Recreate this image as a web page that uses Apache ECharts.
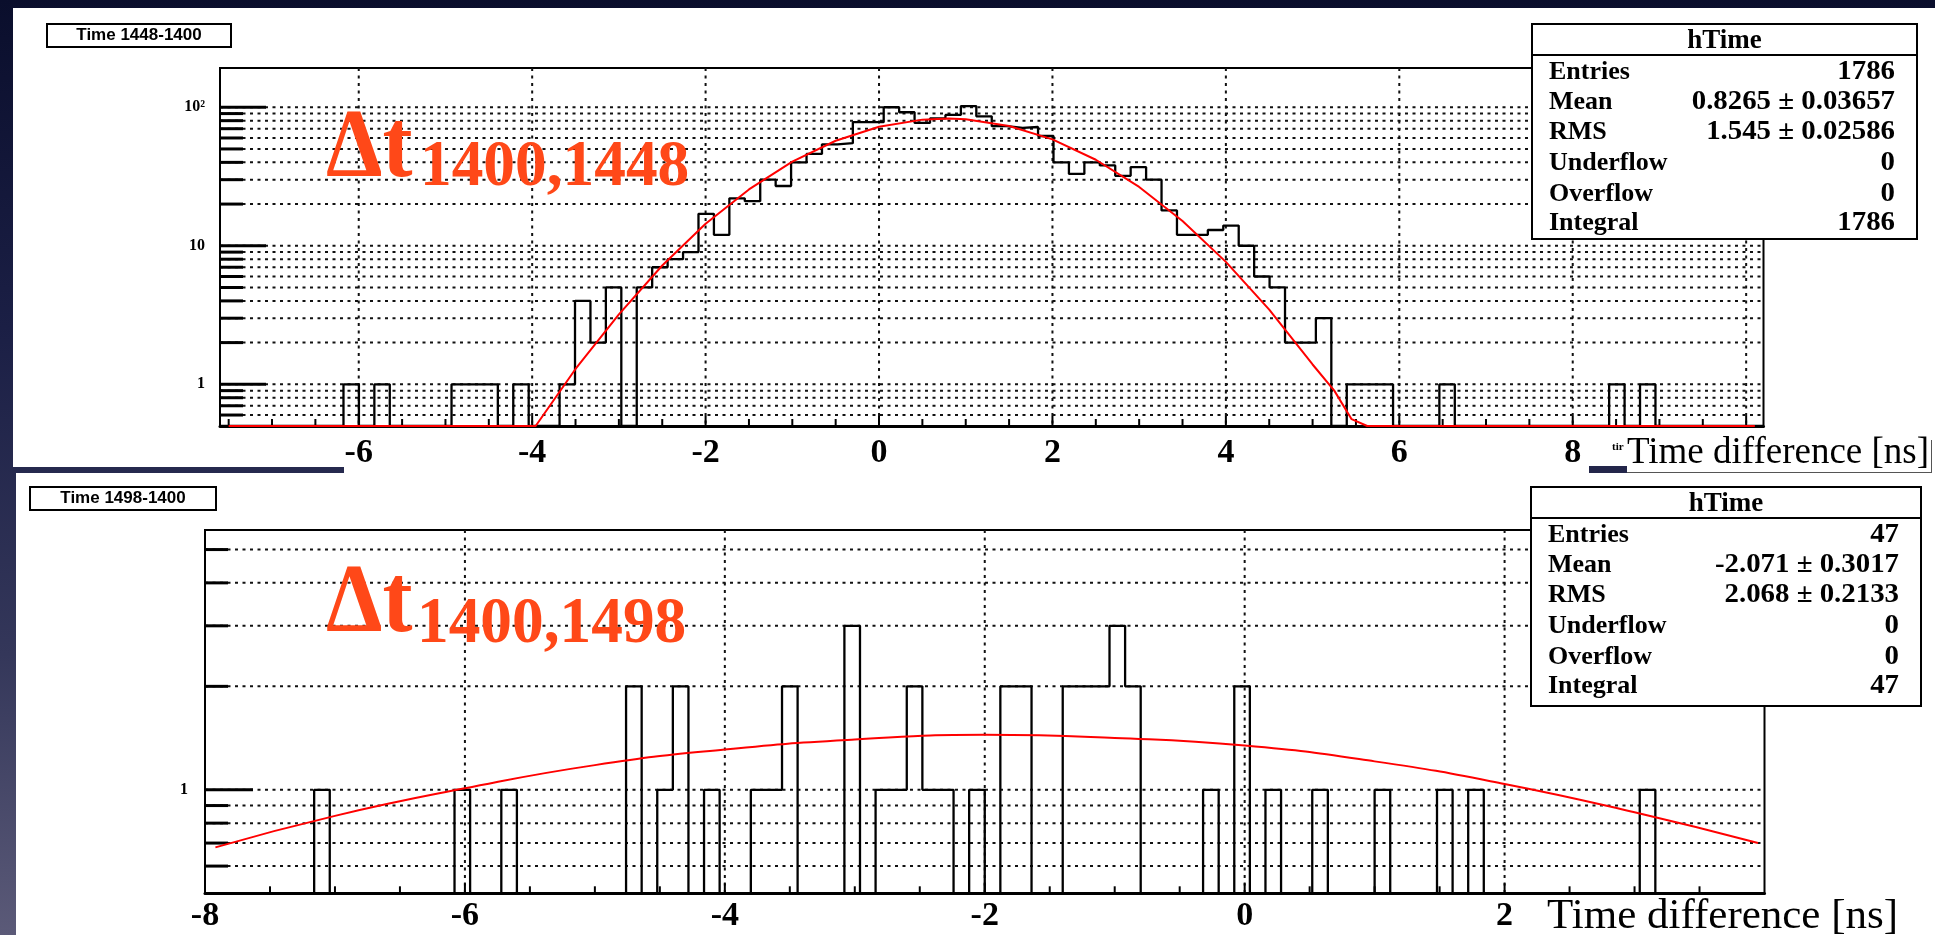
<!DOCTYPE html>
<html><head><meta charset="utf-8">
<script src="https://cdn.jsdelivr.net/npm/echarts@6/dist/echarts.min.js"></script>
<style>
html,body{margin:0;padding:0;width:1935px;height:935px;overflow:hidden;
background:linear-gradient(180deg,#0a0e2c 0%,#1b1f45 35%,#34375a 70%,#5b5a78 100%);}
#wrap{position:relative;width:1935px;height:935px;}
.panel{position:absolute;background:#fff;}
#chart{position:absolute;left:0;top:0;width:1935px;height:935px;}
</style></head><body>
<div id="wrap">
<div class="panel" style="left:13px;top:8px;width:1922px;height:459px"></div>
<div class="panel" style="left:344px;top:460px;width:1591px;height:14px"></div>
<div class="panel" style="left:16px;top:473px;width:1919px;height:462px"></div>
<div style="position:absolute;left:1589px;top:466px;width:38px;height:7px;background:#23264a"></div>
<div style="position:absolute;left:1627px;top:472px;width:305px;height:1px;background:#555"></div>
<div style="position:absolute;left:1931px;top:440px;width:1px;height:33px;background:#555"></div>
<div id="chart"></div>
</div>
<script>
// ---------------- data ----------------
const TOP_X_MIN = -7.6, TOP_X_MAX = 10.2, TOP_BIN_W = 0.178;
const TOP_Y_MIN = 0.5, TOP_Y_MAX = 192;
const TOP_COUNTS = [
  0,0,0,0,0,0,0,0,1,0,
  1,0,0,0,0,1,1,1,0,1,
  0,0,1,4,2,5,0,5,7,8,
  9,17,12,22,21,30,27,40,46,54,
  55,78,78,100,92,77,83,88,102,86,
  73,71,72,62,40,33,40,38,32,37,
  30,18,12,12,13,14,10,6,5,2,
  2,3,0,1,1,1,0,0,0,1,
  0,0,0,0,0,0,0,0,0,0,
  1,0,1,0,0,0,0,0,0,0
];
const TOP_FIT_X = [-7.5,-3.96,-3.5,-3.0,-2.5,-2.0,-1.5,-1.0,-0.5,0.0,0.5,0.8,1.0,1.5,2.0,2.5,3.0,3.5,4.0,4.5,5.0,5.25,5.45,5.63,10.1];
const TOP_FIT_Y = [0.5,0.5,1.29,3.2,7.2,14.4,25.5,40.5,57.3,72.3,81.4,82.8,81.8,73.3,58.6,41.8,26.6,15.1,7.65,3.46,1.39,0.9,0.56,0.5,0.5];

const BOT_X_MIN = -8, BOT_X_MAX = 4, BOT_BIN_W = 0.12;
const BOT_Y_MIN = 0.5, BOT_Y_MAX = 5.7;
const BOT_COUNTS = [
  0,0,0,0,0,0,0,1,0,0,
  0,0,0,0,0,0,1,0,0,1,
  0,0,0,0,0,0,0,2,0,1,
  2,0,1,0,0,1,1,2,0,0,
  0,3,0,1,1,2,1,1,0,1,
  0,2,2,0,0,2,2,2,3,2,
  0,0,0,0,1,0,2,0,1,0,
  0,1,0,0,0,1,0,0,0,1,
  0,1,0,0,0,0,0,0,0,0,
  0,0,1,0,0,0,0,0,0,0
];
const BOT_FIT_X = [-7.92,-7.0,-6.0,-5.0,-4.0,-3.0,-2.0,-1.0,0.0,1.0,2.0,3.0,3.95];
const BOT_FIT_Y = [0.68,0.84,1.01,1.18,1.31,1.40,1.445,1.415,1.345,1.21,1.04,0.86,0.70];

const TOP_X_LABELS = [-6,-4,-2,0,2,4,6,8];
const TOP_X_GRID = [-6,-4,-2,0,2,4,6,8,10];
const TOP_Y_GRID = [0.6,0.7,0.8,0.9,1,2,3,4,5,6,7,8,9,10,20,30,40,50,60,70,80,90,100];
const TOP_Y_LABEL_VALUES = [1,10,100];
const TOP_Y_LABEL_TEXTS = ['1','10','10²'];

const BOT_X_LABELS = [-8,-6,-4,-2,0,2];
const BOT_X_GRID = [-6,-4,-2,0,2];
const BOT_Y_GRID = [0.6,0.7,0.8,0.9,1,2,3,4,5];
const BOT_Y_LABEL_VALUES = [1];
const BOT_Y_LABEL_TEXTS = ['1'];

const STAT_NAMES = ['Entries','Mean','RMS','Underflow','Overflow','Integral'];
const TOP_STATS = ['1786','0.8265 ± 0.03657','1.545 ± 0.02586','0','0','1786'];
const BOT_STATS = ['47','-2.071 ± 0.3017','2.068 ± 0.2133','0','0','47'];

// ---------------- helpers ----------------
const SERIF = '"Liberation Serif","Times New Roman",serif';
function histLine(xmin, w, counts, floor){
  const pts = [[xmin, floor]];
  counts.forEach((c,i)=>pts.push([xmin + i*w, c > 0 ? c : floor]));
  pts.push([xmin + counts.length*w, floor]);
  return pts;
}
function ticksFrom(a, b, step){ const r=[]; for(let v=a; v<=b+1e-9; v+=step) r.push(Math.round(v*100)/100); return r; }

function xDeco(gridList, labelList, labelOffset){
  return function(params, api){
    const cs = params.coordSys;
    const v = api.value(0);
    const px = api.coord([v, api.value(1)])[0];
    const bottom = cs.y + cs.height;
    const ch = [];
    if (gridList.indexOf(v) >= 0) ch.push({type:'line', shape:{x1:px,y1:cs.y,x2:px,y2:bottom},
      style:{stroke:'#111', lineWidth:2, lineDash:[3,4.5]}});
    const major = Math.abs(v - Math.round(v/2)*2) < 1e-6;
    ch.push({type:'line', shape:{x1:px,y1:bottom,x2:px,y2:bottom-(major?10:7)}, style:{stroke:'#000', lineWidth:2}});
    if (labelList.indexOf(v) >= 0) ch.push({type:'text', x:px, y:bottom+labelOffset,
      style:{text:String(v), fill:'#000', font:'bold 34px '+SERIF, align:'center', verticalAlign:'middle', textAlign:'center', textVerticalAlign:'middle'}});
    return {type:'group', children:ch};
  };
}
function yDeco(labelVals, labelTexts, majorLen, minorLen, gap){
  return function(params, api){
    const cs = params.coordSys;
    const v = api.value(1);
    const py = api.coord([api.value(0), v])[1];
    const mi = labelVals.indexOf(v);
    const ch = [
      {type:'line', shape:{x1:cs.x,y1:py,x2:cs.x+cs.width,y2:py}, style:{stroke:'#111', lineWidth:2, lineDash:[3,4.5]}},
      {type:'line', shape:{x1:cs.x,y1:py,x2:cs.x+(mi>=0?majorLen:minorLen),y2:py}, style:{stroke:'#000', lineWidth:3}}
    ];
    if (mi >= 0) ch.push({type:'text', x:cs.x-gap, y:py,
      style:{text:labelTexts[mi], fill:'#000', font:'bold 16px '+SERIF, align:'right', verticalAlign:'middle', textAlign:'right', textVerticalAlign:'middle'}});
    return {type:'group', children:ch};
  };
}
function txt(x, y, text, font, align, fill, extra){
  return Object.assign({type:'text', x:x, y:y, z:100,
    style:{text:text, font:font, fill:fill||'#000', align:align||'left', verticalAlign:'middle', textAlign:align||'left', textVerticalAlign:'middle'}}, extra||{});
}
function statsBox(x, y, w, h, values){
  const offs = [48,78,108,139,170,199];
  const els = [
    {type:'rect', z:99, shape:{x:x,y:y,width:w,height:h}, style:{fill:'#fff', stroke:'#000', lineWidth:2}},
    {type:'line', z:100, shape:{x1:x,y1:y+31,x2:x+w,y2:y+31}, style:{stroke:'#000', lineWidth:2}},
    txt(x+w/2, y+17, 'hTime', 'bold 27px '+SERIF, 'center')
  ];
  STAT_NAMES.forEach((n,i)=>{
    els.push(txt(x+17, y+offs[i], n, 'bold 26px '+SERIF, 'left'));
    els.push(txt(x+w-22, y+offs[i], values[i], 'bold 28px '+SERIF, 'right', '#000', {scaleX:1.03}));
  });
  return els;
}
function titleBox(x, y, w, h, t){
  return [
    {type:'rect', z:99, shape:{x:x,y:y,width:w,height:h}, style:{fill:'#fff', stroke:'#000', lineWidth:2}},
    txt(x+w/2, y+h/2, t, 'bold 17px "Liberation Sans Narrow","Liberation Sans",Arial,sans-serif', 'center')
  ];
}
const RED = '#ff4818';
function deltaLabel(x, ymid, subX, subMid, sub){
  return [
    txt(x, ymid, 'Δt', 'bold 98px '+SERIF, 'left', RED, {scaleX:0.92, z:60}),
    txt(subX, subMid, sub, 'bold 66px '+SERIF, 'left', RED, {scaleX:0.96, z:60})
  ];
}

const TOP_X_TICKS = ticksFrom(-7.5, 10, 0.5);
const BOT_X_TICKS = ticksFrom(-7.5, 3.5, 0.5).concat([-8]);

const chart = echarts.init(document.getElementById('chart'), null, {renderer:'canvas', width:1935, height:935});
const axisOff = {axisTick:{show:false}, axisLabel:{show:false}, splitLine:{show:false}};
chart.setOption({
  animation:false,
  backgroundColor:'transparent',
  grid:[
    {left:220, top:68, width:1543.5, height:358, show:true, borderColor:'#000', borderWidth:2, backgroundColor:'transparent'},
    {left:205, top:530, width:1559.5, height:363.3, show:true, borderColor:'#000', borderWidth:2, backgroundColor:'transparent'}
  ],
  xAxis:[
    Object.assign({gridIndex:0, type:'value', min:TOP_X_MIN, max:TOP_X_MAX, axisLine:{show:true, onZero:false, lineStyle:{color:'#000', width:3}}}, axisOff),
    Object.assign({gridIndex:1, type:'value', min:BOT_X_MIN, max:BOT_X_MAX, axisLine:{show:true, onZero:false, lineStyle:{color:'#000', width:3}}}, axisOff)
  ],
  yAxis:[
    Object.assign({gridIndex:0, type:'log', logBase:10, min:TOP_Y_MIN, max:TOP_Y_MAX, axisLine:{show:true, onZero:false, lineStyle:{color:'#000', width:2}}}, axisOff),
    Object.assign({gridIndex:1, type:'log', logBase:10, min:BOT_Y_MIN, max:BOT_Y_MAX, axisLine:{show:true, onZero:false, lineStyle:{color:'#000', width:2}}}, axisOff)
  ],
  series:[
    {type:'custom', xAxisIndex:0, yAxisIndex:0, z:1, silent:true, encode:{x:0,y:1},
      data:TOP_Y_GRID.map(v=>[TOP_X_MIN, v]), renderItem:yDeco(TOP_Y_LABEL_VALUES, TOP_Y_LABEL_TEXTS, 46, 23, 15)},
    {type:'custom', xAxisIndex:0, yAxisIndex:0, z:1, silent:true, encode:{x:0,y:1},
      data:TOP_X_TICKS.map(v=>[v, TOP_Y_MIN]), renderItem:xDeco(TOP_X_GRID, TOP_X_LABELS, 27)},
    {type:'custom', xAxisIndex:1, yAxisIndex:1, z:1, silent:true, encode:{x:0,y:1},
      data:BOT_Y_GRID.map(v=>[BOT_X_MIN, v]), renderItem:yDeco(BOT_Y_LABEL_VALUES, BOT_Y_LABEL_TEXTS, 48, 23, 17)},
    {type:'custom', xAxisIndex:1, yAxisIndex:1, z:1, silent:true, encode:{x:0,y:1},
      data:BOT_X_TICKS.map(v=>[v, BOT_Y_MIN]), renderItem:xDeco(BOT_X_GRID, BOT_X_LABELS, 23)},
    {type:'line', xAxisIndex:0, yAxisIndex:0, z:3, step:'end', showSymbol:false, symbol:'none',
      data:histLine(TOP_X_MIN, TOP_BIN_W, TOP_COUNTS, TOP_Y_MIN), lineStyle:{color:'#000', width:2.3}},
    {type:'line', xAxisIndex:1, yAxisIndex:1, z:3, step:'end', showSymbol:false, symbol:'none',
      data:histLine(BOT_X_MIN, BOT_BIN_W, BOT_COUNTS, BOT_Y_MIN), lineStyle:{color:'#000', width:2.3}},
    {type:'line', xAxisIndex:0, yAxisIndex:0, z:4, smooth:false, showSymbol:false, symbol:'none', clip:false,
      data:TOP_FIT_X.map((x,i)=>[x, TOP_FIT_Y[i]]), lineStyle:{color:'#ff0000', width:2}},
    {type:'line', xAxisIndex:1, yAxisIndex:1, z:4, smooth:0.5, showSymbol:false, symbol:'none', clip:true,
      data:BOT_FIT_X.map((x,i)=>[x, BOT_FIT_Y[i]]), lineStyle:{color:'#ff0000', width:2}}
  ],
  graphic:{elements:[].concat(
    titleBox(47, 24, 184, 23, 'Time 1448-1400'),
    titleBox(30, 487, 186, 23, 'Time 1498-1400'),
    statsBox(1532, 24, 385, 215, TOP_STATS),
    statsBox(1531, 487, 390, 219, BOT_STATS),
    deltaLabel(326, 150.5, 420, 167.5, '1400,1448'),
    deltaLabel(326, 605.5, 417, 624.5, '1400,1498'),
    [
      txt(1627, 453, 'Time difference [ns]', '37px '+SERIF, 'left'),
      txt(1547, 917, 'Time difference [ns]', '43px '+SERIF, 'left'),
      txt(1612, 447, 'tir', 'bold 11px '+SERIF, 'left')
    ]
  )}
});
</script>
</body></html>
